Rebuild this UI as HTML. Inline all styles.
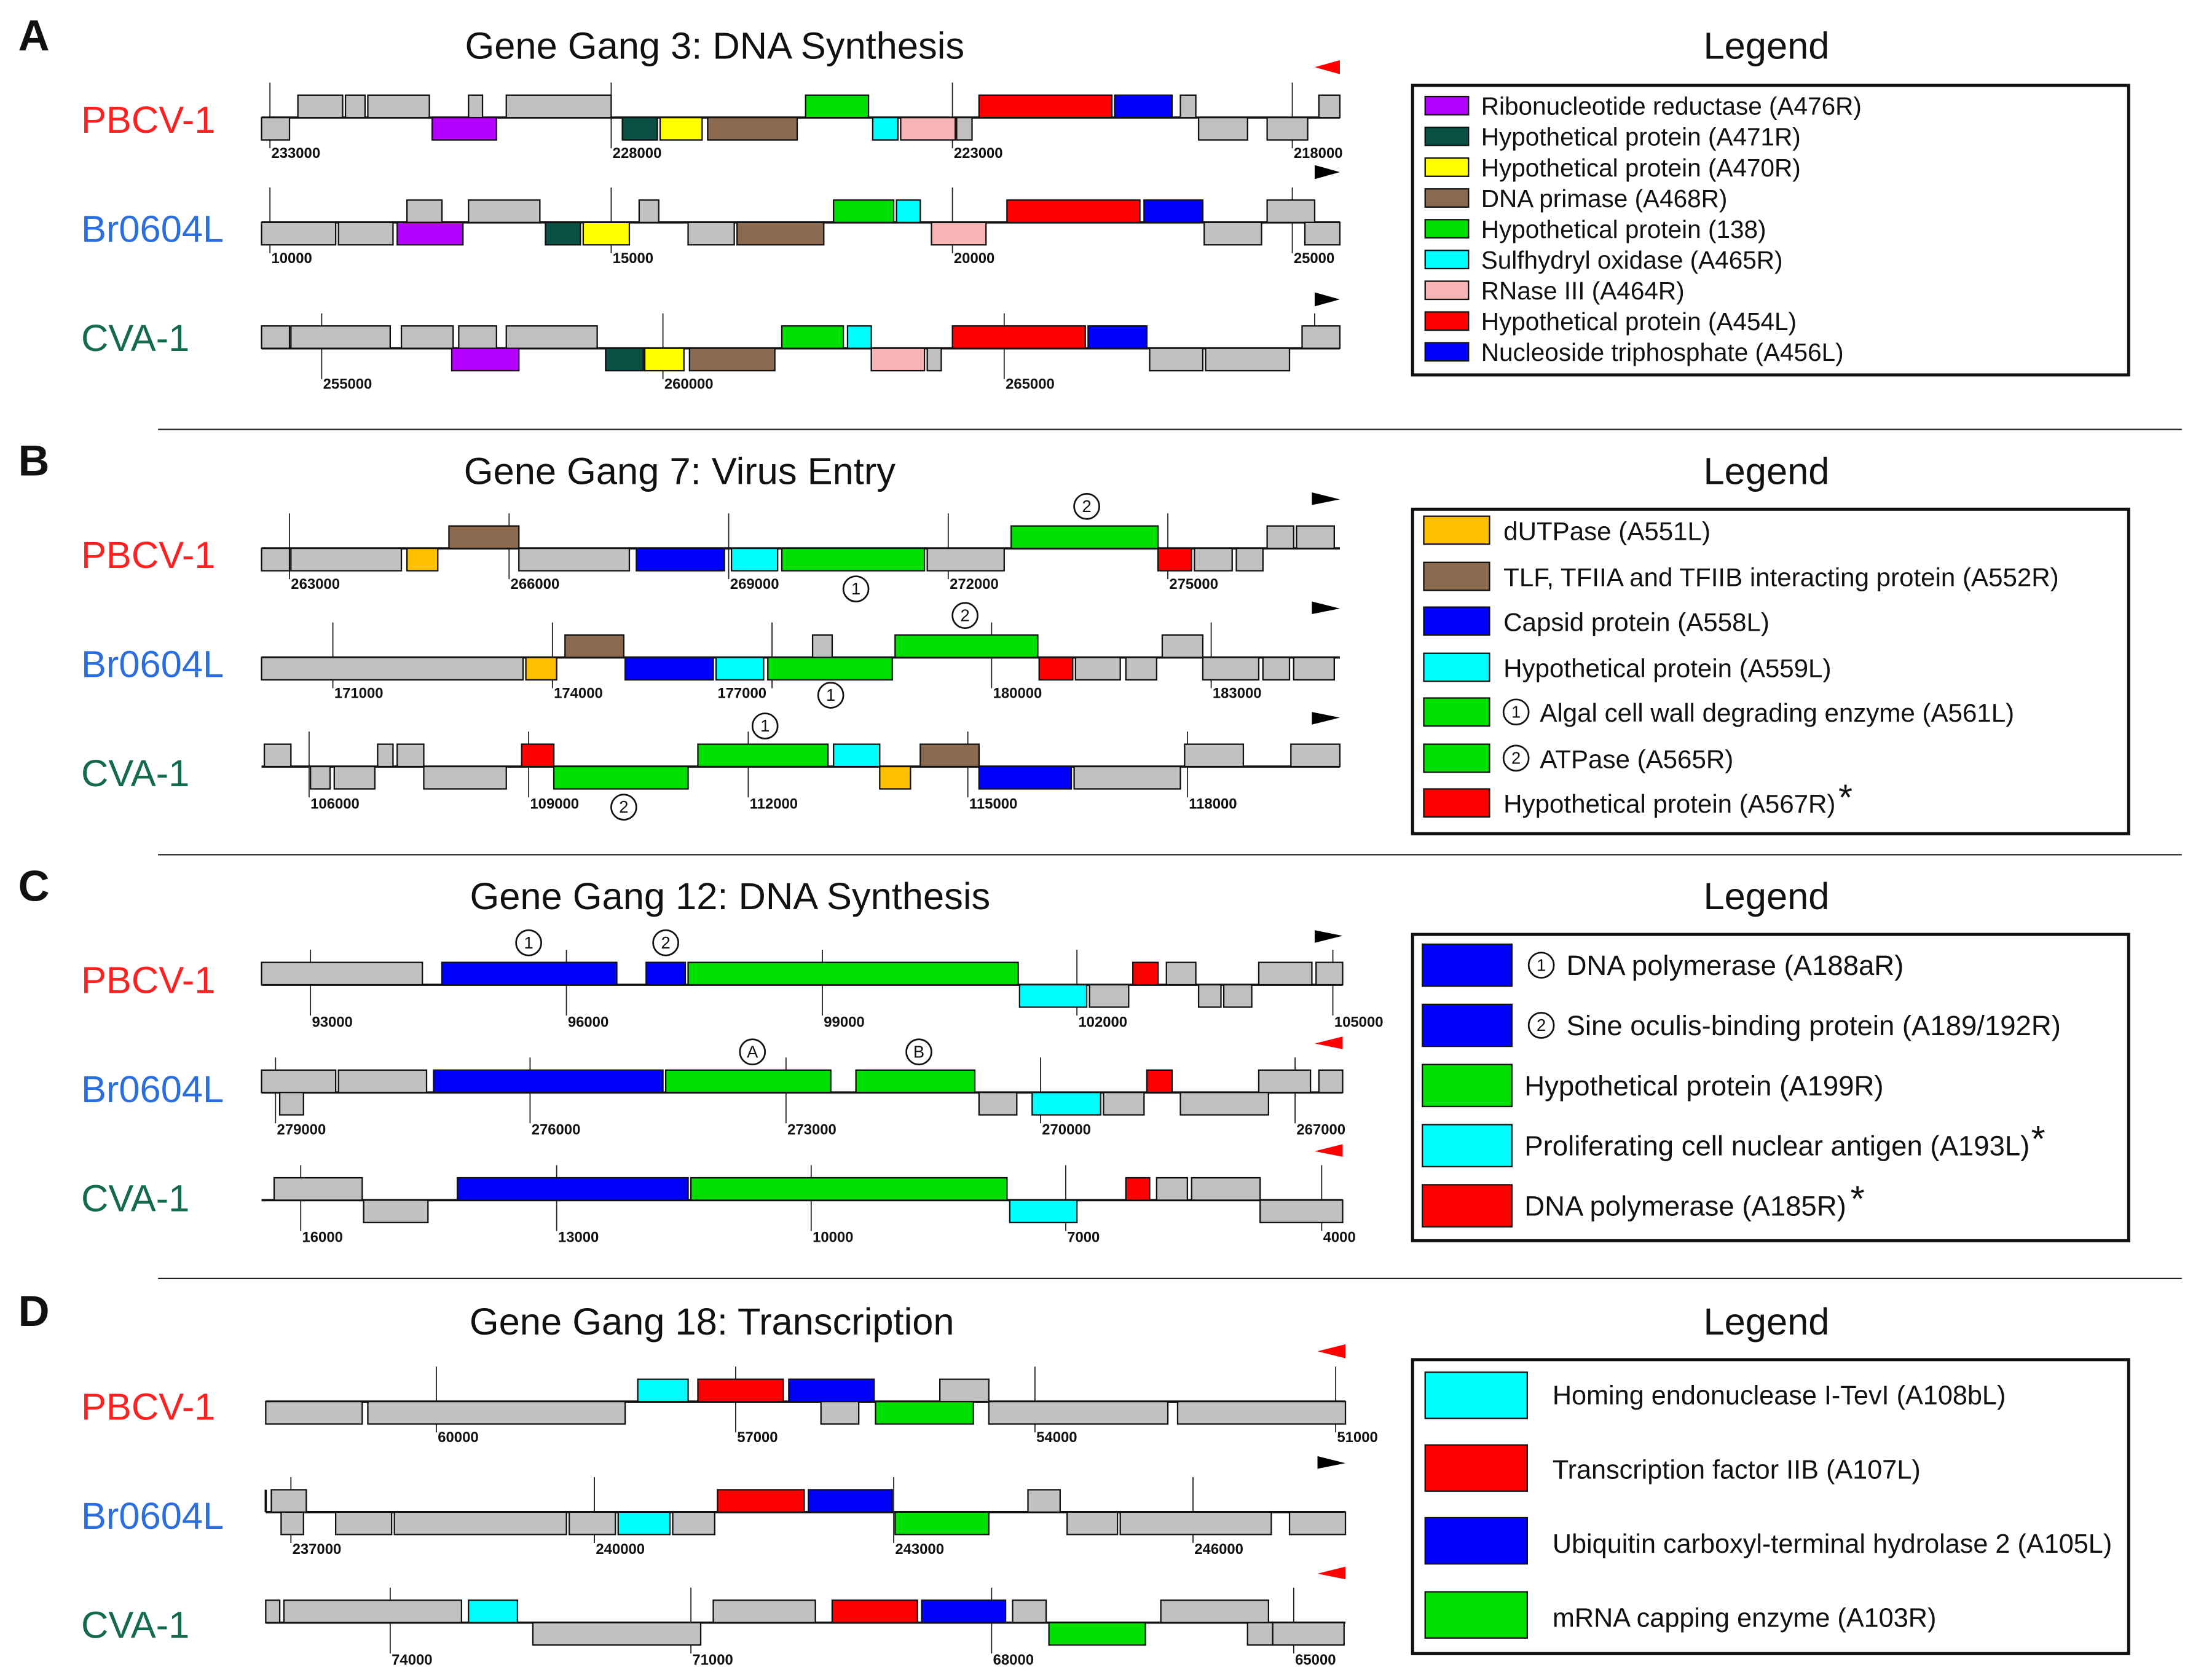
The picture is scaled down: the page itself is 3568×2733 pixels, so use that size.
<!DOCTYPE html>
<html><head><meta charset="utf-8"><style>
html,body{margin:0;padding:0;background:#fff}
svg{display:block}
text{font-family:"Liberation Sans",sans-serif}
.g{fill:#c1c1c1}
rect.gn{stroke:#111;stroke-width:1}
.tk{stroke:#222;stroke-width:.8}
.tl{font-size:10.5px;font-weight:bold;fill:#111}
.ln{stroke:#111;stroke-width:1.6}
.ttl{font-size:27px;fill:#111}
.pl{font-size:31px;font-weight:bold;fill:#111}
.lab{font-size:27px}
.lg{font-size:17px;fill:#111}
.la{font-size:17.8px}
.lb{font-size:18.5px}
.lc{font-size:20px}
.ld{font-size:19px}
.ast{font-size:26px}
.sep{stroke:#222;stroke-width:1}
.cn{fill:#fff;stroke:#111;stroke-width:1.2}
.ct{font-size:12px;text-anchor:middle;fill:#111}
</style></head><body>
<svg width="3568" height="2733" viewBox="0 0 1568 1201" xmlns="http://www.w3.org/2000/svg">
<!-- ================= PANEL A ================= -->
<text class="pl" x="13" y="36">A</text>
<text class="ttl" x="511" y="42" text-anchor="middle">Gene Gang 3: DNA Synthesis</text>
<text class="ttl" x="1263" y="42" text-anchor="middle">Legend</text>
<text class="lab" x="58" y="95" fill="#ff2020">PBCV-1</text>
<text class="lab" x="58" y="173" fill="#2a6ee0">Br0604L</text>
<text class="lab" x="58" y="251" fill="#146b4c">CVA-1</text>

<g transform="translate(0,84)">
<line class="ln" x1="187" y1="0" x2="958" y2="0"/>
<g class="tk"><line x1="193" y1="-25" x2="193" y2="22"/><line x1="437" y1="-25" x2="437" y2="22"/><line x1="681" y1="-25" x2="681" y2="22"/><line x1="924" y1="-25" x2="924" y2="22"/></g>
<g class="tl"><text x="194" y="29">233000</text><text x="438" y="29">228000</text><text x="682" y="29">223000</text><text x="925" y="29">218000</text></g>
<rect class="gn g" x="213" y="-16" width="32" height="16"/><rect class="gn g" x="247" y="-16" width="14" height="16"/><rect class="gn g" x="263" y="-16" width="44" height="16"/><rect class="gn g" x="335" y="-16" width="10" height="16"/><rect class="gn g" x="362" y="-16" width="75" height="16"/>
<rect class="gn" fill="#00e000" x="576" y="-16" width="45" height="16"/><rect class="gn" fill="#ff0000" x="700" y="-16" width="95" height="16"/><rect class="gn" fill="#0000ff" x="797" y="-16" width="41" height="16"/><rect class="gn g" x="844" y="-16" width="11" height="16"/><rect class="gn g" x="943" y="-16" width="15" height="16"/>
<rect class="gn g" x="187" y="0" width="20" height="16"/><rect class="gn" fill="#b400ff" x="309" y="0" width="46" height="16"/><rect class="gn" fill="#0a5045" x="445" y="0" width="25" height="16"/><rect class="gn" fill="#ffff00" x="472" y="0" width="30" height="16"/><rect class="gn" fill="#8c6a50" x="506" y="0" width="64" height="16"/><rect class="gn" fill="#00ffff" x="624" y="0" width="18" height="16"/><rect class="gn" fill="#f6b4b4" x="644" y="0" width="39" height="16"/><rect class="gn g" x="684" y="0" width="11" height="16"/><rect class="gn g" x="857" y="0" width="35" height="16"/><rect class="gn g" x="906" y="0" width="29" height="16"/>
<polygon points="958,-41 940,-36 958,-31" fill="#ff0000"/>
</g>

<g transform="translate(0,159)">
<line class="ln" x1="187" y1="0" x2="958" y2="0"/>
<g class="tk"><line x1="193" y1="-25" x2="193" y2="22"/><line x1="437" y1="-25" x2="437" y2="22"/><line x1="681" y1="-25" x2="681" y2="22"/><line x1="924" y1="-25" x2="924" y2="22"/></g>
<g class="tl"><text x="194" y="29">10000</text><text x="438" y="29">15000</text><text x="682" y="29">20000</text><text x="925" y="29">25000</text></g>
<rect class="gn g" x="291" y="-16" width="25" height="16"/><rect class="gn g" x="335" y="-16" width="51" height="16"/><rect class="gn g" x="457" y="-16" width="14" height="16"/><rect class="gn" fill="#00e000" x="596" y="-16" width="43" height="16"/><rect class="gn" fill="#00ffff" x="641" y="-16" width="17" height="16"/><rect class="gn" fill="#ff0000" x="720" y="-16" width="95" height="16"/><rect class="gn" fill="#0000ff" x="818" y="-16" width="42" height="16"/><rect class="gn g" x="906" y="-16" width="34" height="16"/>
<rect class="gn g" x="187" y="0" width="53" height="16"/><rect class="gn g" x="242" y="0" width="39" height="16"/><rect class="gn" fill="#b400ff" x="284" y="0" width="47" height="16"/><rect class="gn" fill="#0a5045" x="390" y="0" width="25" height="16"/><rect class="gn" fill="#ffff00" x="417" y="0" width="33" height="16"/><rect class="gn g" x="492" y="0" width="33" height="16"/><rect class="gn" fill="#8c6a50" x="527" y="0" width="62" height="16"/><rect class="gn" fill="#f6b4b4" x="666" y="0" width="39" height="16"/><rect class="gn g" x="861" y="0" width="41" height="16"/><rect class="gn g" x="933" y="0" width="25" height="16"/>
<polygon points="940,-41 958,-36 940,-31" fill="#000"/>
</g>

<g transform="translate(0,249)">
<line class="ln" x1="187" y1="0" x2="958" y2="0"/>
<g class="tk"><line x1="230" y1="-25" x2="230" y2="22"/><line x1="474" y1="-25" x2="474" y2="22"/><line x1="718" y1="-25" x2="718" y2="22"/><line x1="940" y1="-25" x2="940" y2="0"/></g>
<g class="tl"><text x="231" y="29">255000</text><text x="475" y="29">260000</text><text x="719" y="29">265000</text></g>
<rect class="gn g" x="187" y="-16" width="20" height="16"/><rect class="gn g" x="208" y="-16" width="71" height="16"/><rect class="gn g" x="287" y="-16" width="37" height="16"/><rect class="gn g" x="328" y="-16" width="27" height="16"/><rect class="gn g" x="362" y="-16" width="65" height="16"/><rect class="gn" fill="#00e000" x="559" y="-16" width="44" height="16"/><rect class="gn" fill="#00ffff" x="606" y="-16" width="17" height="16"/><rect class="gn" fill="#ff0000" x="681" y="-16" width="95" height="16"/><rect class="gn" fill="#0000ff" x="778" y="-16" width="42" height="16"/><rect class="gn g" x="931" y="-16" width="27" height="16"/>
<rect class="gn" fill="#b400ff" x="323" y="0" width="48" height="16"/><rect class="gn" fill="#0a5045" x="433" y="0" width="27" height="16"/><rect class="gn" fill="#ffff00" x="461" y="0" width="28" height="16"/><rect class="gn" fill="#8c6a50" x="493" y="0" width="61" height="16"/><rect class="gn" fill="#f6b4b4" x="623" y="0" width="38" height="16"/><rect class="gn g" x="663" y="0" width="10" height="16"/><rect class="gn g" x="822" y="0" width="38" height="16"/><rect class="gn g" x="862" y="0" width="60" height="16"/>
<polygon points="940,-40 958,-35 940,-30" fill="#000"/>
</g>

<rect x="1010" y="61" width="512" height="207" fill="none" stroke="#111" stroke-width="2.2"/>
<g>
<rect class="gn" fill="#b400ff" x="1019" y="69" width="31" height="13"/><text class="lg la" x="1059" y="82">Ribonucleotide reductase (A476R)</text>
<rect class="gn" fill="#0a5045" x="1019" y="91" width="31" height="13"/><text class="lg la" x="1059" y="104">Hypothetical protein (A471R)</text>
<rect class="gn" fill="#ffff00" x="1019" y="113" width="31" height="13"/><text class="lg la" x="1059" y="126">Hypothetical protein (A470R)</text>
<rect class="gn" fill="#8c6a50" x="1019" y="135" width="31" height="13"/><text class="lg la" x="1059" y="148">DNA primase (A468R)</text>
<rect class="gn" fill="#00e000" x="1019" y="157" width="31" height="13"/><text class="lg la" x="1059" y="170">Hypothetical protein (138)</text>
<rect class="gn" fill="#00ffff" x="1019" y="179" width="31" height="13"/><text class="lg la" x="1059" y="192">Sulfhydryl oxidase (A465R)</text>
<rect class="gn" fill="#f6b4b4" x="1019" y="201" width="31" height="13"/><text class="lg la" x="1059" y="214">RNase III (A464R)</text>
<rect class="gn" fill="#ff0000" x="1019" y="223" width="31" height="13"/><text class="lg la" x="1059" y="236">Hypothetical protein (A454L)</text>
<rect class="gn" fill="#0000ff" x="1019" y="245" width="31" height="13"/><text class="lg la" x="1059" y="258">Nucleoside triphosphate (A456L)</text>
</g>
<line class="sep" x1="113" y1="307" x2="1560" y2="307"/>

<!-- ================= PANEL B ================= -->
<text class="pl" x="13" y="340">B</text>
<text class="ttl" x="486" y="346" text-anchor="middle">Gene Gang 7: Virus Entry</text>
<text class="ttl" x="1263" y="346" text-anchor="middle">Legend</text>
<text class="lab" x="58" y="406" fill="#ff2020">PBCV-1</text>
<text class="lab" x="58" y="484" fill="#2a6ee0">Br0604L</text>
<text class="lab" x="58" y="562" fill="#146b4c">CVA-1</text>

<g transform="translate(0,392)">
<line class="ln" x1="187" y1="0" x2="958" y2="0"/>
<g class="tk"><line x1="207" y1="-25" x2="207" y2="22"/><line x1="364" y1="-25" x2="364" y2="22"/><line x1="521" y1="-25" x2="521" y2="22"/><line x1="678" y1="-25" x2="678" y2="22"/><line x1="835" y1="-25" x2="835" y2="22"/></g>
<g class="tl"><text x="208" y="29">263000</text><text x="365" y="29">266000</text><text x="522" y="29">269000</text><text x="679" y="29">272000</text><text x="836" y="29">275000</text></g>
<rect class="gn" fill="#8c6a50" x="321" y="-16" width="50" height="16"/><rect class="gn" fill="#00e000" x="723" y="-16" width="105" height="16"/><rect class="gn g" x="906" y="-16" width="19" height="16"/><rect class="gn g" x="927" y="-16" width="27" height="16"/>
<rect class="gn g" x="187" y="0" width="20" height="16"/><rect class="gn g" x="208" y="0" width="79" height="16"/><rect class="gn" fill="#ffc000" x="291" y="0" width="22" height="16"/><rect class="gn g" x="371" y="0" width="79" height="16"/><rect class="gn" fill="#0000ff" x="455" y="0" width="63" height="16"/><rect class="gn" fill="#00ffff" x="523" y="0" width="33" height="16"/><rect class="gn" fill="#00e000" x="559" y="0" width="102" height="16"/><rect class="gn g" x="663" y="0" width="55" height="16"/><rect class="gn" fill="#ff0000" x="828" y="0" width="24" height="16"/><rect class="gn g" x="854" y="0" width="27" height="16"/><rect class="gn g" x="884" y="0" width="19" height="16"/>
<circle class="cn" cx="777" cy="-30" r="9"/><text class="ct" x="777" y="-26">2</text>
<circle class="cn" cx="612" cy="29" r="9"/><text class="ct" x="612" y="33">1</text>
<polygon points="938,-40 958,-35 938,-31" fill="#000"/>
</g>

<g transform="translate(0,470)">
<line class="ln" x1="187" y1="0" x2="958" y2="0"/>
<g class="tk"><line x1="238" y1="-25" x2="238" y2="22"/><line x1="395" y1="-25" x2="395" y2="22"/><line x1="552" y1="-25" x2="552" y2="22"/><line x1="709" y1="-25" x2="709" y2="22"/><line x1="866" y1="-25" x2="866" y2="22"/></g>
<g class="tl"><text x="239" y="29">171000</text><text x="396" y="29">174000</text><text x="513" y="29">177000</text><text x="710" y="29">180000</text><text x="867" y="29">183000</text></g>
<rect class="gn" fill="#8c6a50" x="404" y="-16" width="42" height="16"/><rect class="gn g" x="581" y="-16" width="14" height="16"/><rect class="gn" fill="#00e000" x="640" y="-16" width="102" height="16"/><rect class="gn g" x="831" y="-16" width="29" height="16"/>
<rect class="gn g" x="187" y="0" width="187" height="16"/><rect class="gn" fill="#ffc000" x="376" y="0" width="22" height="16"/><rect class="gn" fill="#0000ff" x="447" y="0" width="63" height="16"/><rect class="gn" fill="#00ffff" x="512" y="0" width="34" height="16"/><rect class="gn" fill="#00e000" x="549" y="0" width="89" height="16"/><rect class="gn" fill="#ff0000" x="743" y="0" width="24" height="16"/><rect class="gn g" x="769" y="0" width="32" height="16"/><rect class="gn g" x="805" y="0" width="22" height="16"/><rect class="gn g" x="860" y="0" width="40" height="16"/><rect class="gn g" x="903" y="0" width="19" height="16"/><rect class="gn g" x="925" y="0" width="29" height="16"/>
<circle class="cn" cx="690" cy="-30" r="9"/><text class="ct" x="690" y="-26">2</text>
<circle class="cn" cx="594" cy="27" r="9"/><text class="ct" x="594" y="31">1</text>
<polygon points="938,-40 958,-35 938,-31" fill="#000"/>
</g>

<g transform="translate(0,548)">
<line class="ln" x1="187" y1="0" x2="958" y2="0"/>
<g class="tk"><line x1="221" y1="-25" x2="221" y2="22"/><line x1="378" y1="-25" x2="378" y2="22"/><line x1="535" y1="-25" x2="535" y2="22"/><line x1="692" y1="-25" x2="692" y2="22"/><line x1="849" y1="-25" x2="849" y2="22"/></g>
<g class="tl"><text x="222" y="30">106000</text><text x="379" y="30">109000</text><text x="536" y="30">112000</text><text x="693" y="30">115000</text><text x="850" y="30">118000</text></g>
<rect class="gn g" x="189" y="-16" width="19" height="16"/><rect class="gn g" x="270" y="-16" width="11" height="16"/><rect class="gn g" x="284" y="-16" width="19" height="16"/><rect class="gn" fill="#ff0000" x="373" y="-16" width="23" height="16"/><rect class="gn" fill="#00e000" x="499" y="-16" width="93" height="16"/><rect class="gn" fill="#00ffff" x="596" y="-16" width="33" height="16"/><rect class="gn" fill="#8c6a50" x="658" y="-16" width="42" height="16"/><rect class="gn g" x="847" y="-16" width="42" height="16"/><rect class="gn g" x="923" y="-16" width="35" height="16"/>
<rect class="gn g" x="222" y="0" width="14" height="16"/><rect class="gn g" x="239" y="0" width="29" height="16"/><rect class="gn g" x="303" y="0" width="59" height="16"/><rect class="gn" fill="#00e000" x="396" y="0" width="96" height="16"/><rect class="gn" fill="#ffc000" x="629" y="0" width="22" height="16"/><rect class="gn" fill="#0000ff" x="700" y="0" width="66" height="16"/><rect class="gn g" x="768" y="0" width="76" height="16"/>
<circle class="cn" cx="547" cy="-29" r="9"/><text class="ct" x="547" y="-25">1</text>
<circle class="cn" cx="446" cy="29" r="9"/><text class="ct" x="446" y="33">2</text>
<polygon points="938,-39 958,-35 938,-30" fill="#000"/>
</g>

<rect x="1010" y="364" width="512" height="232" fill="none" stroke="#111" stroke-width="2.2"/>
<g>
<rect class="gn" fill="#ffc000" x="1018" y="369" width="47" height="20"/><text class="lg lb" x="1075" y="386">dUTPase (A551L)</text>
<rect class="gn" fill="#8c6a50" x="1018" y="402" width="47" height="20"/><text class="lg lb" x="1075" y="419">TLF, TFIIA and TFIIB interacting protein (A552R)</text>
<rect class="gn" fill="#0000ff" x="1018" y="434" width="47" height="20"/><text class="lg lb" x="1075" y="451">Capsid protein (A558L)</text>
<rect class="gn" fill="#00ffff" x="1018" y="467" width="47" height="20"/><text class="lg lb" x="1075" y="484">Hypothetical protein (A559L)</text>
<rect class="gn" fill="#00e000" x="1018" y="499" width="47" height="20"/><circle class="cn" cx="1084" cy="509" r="9"/><text class="ct" x="1084" y="513">1</text><text class="lg lb" x="1101" y="516">Algal cell wall degrading enzyme (A561L)</text>
<rect class="gn" fill="#00e000" x="1018" y="532" width="47" height="20"/><circle class="cn" cx="1084" cy="542" r="9"/><text class="ct" x="1084" y="546">2</text><text class="lg lb" x="1101" y="549">ATPase (A565R)</text>
<rect class="gn" fill="#ff0000" x="1018" y="564" width="47" height="20"/><text class="lg lb" x="1075" y="581">Hypothetical protein (A567R)<tspan class="ast" dx="2" dy="-2">*</tspan></text>
</g>
<line class="sep" x1="113" y1="611" x2="1560" y2="611"/>

<!-- ================= PANEL C ================= -->
<text class="pl" x="13" y="644">C</text>
<text class="ttl" x="522" y="650" text-anchor="middle">Gene Gang 12:  DNA Synthesis</text>
<text class="ttl" x="1263" y="650" text-anchor="middle">Legend</text>
<text class="lab" x="58" y="710" fill="#ff2020">PBCV-1</text>
<text class="lab" x="58" y="788" fill="#2a6ee0">Br0604L</text>
<text class="lab" x="58" y="866" fill="#146b4c">CVA-1</text>

<g transform="translate(0,704)">
<line class="ln" x1="187" y1="0" x2="960" y2="0"/>
<g class="tk"><line x1="222" y1="-25" x2="222" y2="22"/><line x1="405" y1="-25" x2="405" y2="22"/><line x1="588" y1="-25" x2="588" y2="22"/><line x1="770" y1="-25" x2="770" y2="22"/><line x1="953" y1="-25" x2="953" y2="22"/></g>
<g class="tl"><text x="223" y="30">93000</text><text x="406" y="30">96000</text><text x="589" y="30">99000</text><text x="771" y="30">102000</text><text x="954" y="30">105000</text></g>
<rect class="gn g" x="187" y="-16" width="115" height="16"/><rect class="gn" fill="#0000ff" x="316" y="-16" width="125" height="16"/><rect class="gn" fill="#0000ff" x="462" y="-16" width="28" height="16"/><rect class="gn" fill="#00e000" x="492" y="-16" width="236" height="16"/><rect class="gn" fill="#ff0000" x="810" y="-16" width="18" height="16"/><rect class="gn g" x="834" y="-16" width="21" height="16"/><rect class="gn g" x="900" y="-16" width="38" height="16"/><rect class="gn g" x="941" y="-16" width="19" height="16"/>
<rect class="gn" fill="#00ffff" x="729" y="0" width="48" height="16"/><rect class="gn g" x="779" y="0" width="28" height="16"/><rect class="gn g" x="857" y="0" width="16" height="16"/><rect class="gn g" x="875" y="0" width="20" height="16"/>
<circle class="cn" cx="378" cy="-30" r="9"/><text class="ct" x="378" y="-26">1</text>
<circle class="cn" cx="476" cy="-30" r="9"/><text class="ct" x="476" y="-26">2</text>
<polygon points="940,-39 960,-35 940,-30" fill="#000"/>
</g>

<g transform="translate(0,781)">
<line class="ln" x1="187" y1="0" x2="960" y2="0"/>
<g class="tk"><line x1="197" y1="-25" x2="197" y2="22"/><line x1="379" y1="-25" x2="379" y2="22"/><line x1="562" y1="-25" x2="562" y2="22"/><line x1="744" y1="-25" x2="744" y2="22"/><line x1="926" y1="-25" x2="926" y2="22"/></g>
<g class="tl"><text x="198" y="30">279000</text><text x="380" y="30">276000</text><text x="563" y="30">273000</text><text x="745" y="30">270000</text><text x="927" y="30">267000</text></g>
<rect class="gn g" x="187" y="-16" width="53" height="16"/><rect class="gn g" x="242" y="-16" width="63" height="16"/><rect class="gn" fill="#0000ff" x="310" y="-16" width="164" height="16"/><rect class="gn" fill="#00e000" x="476" y="-16" width="118" height="16"/><rect class="gn" fill="#00e000" x="612" y="-16" width="85" height="16"/><rect class="gn" fill="#ff0000" x="820" y="-16" width="18" height="16"/><rect class="gn g" x="900" y="-16" width="37" height="16"/><rect class="gn g" x="943" y="-16" width="17" height="16"/>
<rect class="gn g" x="200" y="0" width="17" height="16"/><rect class="gn g" x="700" y="0" width="27" height="16"/><rect class="gn" fill="#00ffff" x="738" y="0" width="49" height="16"/><rect class="gn g" x="789" y="0" width="29" height="16"/><rect class="gn g" x="844" y="0" width="63" height="16"/>
<circle class="cn" cx="538" cy="-29" r="9"/><text class="ct" x="538" y="-25">A</text>
<circle class="cn" cx="657" cy="-29" r="9"/><text class="ct" x="657" y="-25">B</text>
<polygon points="960,-40 940,-35 960,-31" fill="#ff0000"/>
</g>

<g transform="translate(0,858)">
<line class="ln" x1="187" y1="0" x2="960" y2="0"/>
<g class="tk"><line x1="215" y1="-25" x2="215" y2="22"/><line x1="398" y1="-25" x2="398" y2="22"/><line x1="580" y1="-25" x2="580" y2="22"/><line x1="762" y1="-25" x2="762" y2="22"/><line x1="945" y1="-25" x2="945" y2="22"/></g>
<g class="tl"><text x="216" y="30">16000</text><text x="399" y="30">13000</text><text x="581" y="30">10000</text><text x="763" y="30">7000</text><text x="946" y="30">4000</text></g>
<rect class="gn g" x="196" y="-16" width="63" height="16"/><rect class="gn" fill="#0000ff" x="327" y="-16" width="165" height="16"/><rect class="gn" fill="#00e000" x="494" y="-16" width="226" height="16"/><rect class="gn" fill="#ff0000" x="805" y="-16" width="17" height="16"/><rect class="gn g" x="827" y="-16" width="22" height="16"/><rect class="gn g" x="852" y="-16" width="49" height="16"/>
<rect class="gn g" x="260" y="0" width="46" height="16"/><rect class="gn" fill="#00ffff" x="722" y="0" width="48" height="16"/><rect class="gn g" x="901" y="0" width="59" height="16"/>
<polygon points="960,-40 940,-35 960,-31" fill="#ff0000"/>
</g>

<rect x="1010" y="668" width="512" height="219" fill="none" stroke="#111" stroke-width="2.2"/>
<g>
<rect class="gn" fill="#0000ff" x="1017" y="675" width="64" height="30"/><circle class="cn" cx="1102" cy="690" r="9"/><text class="ct" x="1102" y="694">1</text><text class="lg lc" x="1120" y="697">DNA polymerase (A188aR)</text>
<rect class="gn" fill="#0000ff" x="1017" y="718" width="64" height="30"/><circle class="cn" cx="1102" cy="733" r="9"/><text class="ct" x="1102" y="737">2</text><text class="lg lc" x="1120" y="740">Sine oculis-binding protein (A189/192R)</text>
<rect class="gn" fill="#00e000" x="1017" y="761" width="64" height="30"/><text class="lg lc" x="1090" y="783">Hypothetical protein (A199R)</text>
<rect class="gn" fill="#00ffff" x="1017" y="804" width="64" height="30"/><text class="lg lc" x="1090" y="826">Proliferating cell nuclear antigen (A193L)<tspan class="ast" dx="1" dy="-3">*</tspan></text>
<rect class="gn" fill="#ff0000" x="1017" y="847" width="64" height="30"/><text class="lg lc" x="1090" y="869">DNA polymerase (A185R)<tspan class="ast" dx="3" dy="-3">*</tspan></text>
</g>
<line class="sep" x1="113" y1="914" x2="1560" y2="914"/>

<!-- ================= PANEL D ================= -->
<text class="pl" x="13" y="948">D</text>
<text class="ttl" x="509" y="954" text-anchor="middle">Gene Gang 18: Transcription</text>
<text class="ttl" x="1263" y="954" text-anchor="middle">Legend</text>
<text class="lab" x="58" y="1015" fill="#ff2020">PBCV-1</text>
<text class="lab" x="58" y="1093" fill="#2a6ee0">Br0604L</text>
<text class="lab" x="58" y="1171" fill="#146b4c">CVA-1</text>

<g transform="translate(0,1002)">
<line class="ln" x1="190" y1="0" x2="962" y2="0"/>
<g class="tk"><line x1="312" y1="-25" x2="312" y2="22"/><line x1="526" y1="-25" x2="526" y2="22"/><line x1="740" y1="-25" x2="740" y2="22"/><line x1="955" y1="-25" x2="955" y2="22"/></g>
<g class="tl"><text x="313" y="29">60000</text><text x="527" y="29">57000</text><text x="741" y="29">54000</text><text x="956" y="29">51000</text></g>
<rect class="gn" fill="#00ffff" x="456" y="-16" width="36" height="16"/><rect class="gn" fill="#ff0000" x="499" y="-16" width="61" height="16"/><rect class="gn" fill="#0000ff" x="564" y="-16" width="61" height="16"/><rect class="gn g" x="672" y="-16" width="35" height="16"/>
<rect class="gn g" x="190" y="0" width="69" height="16"/><rect class="gn g" x="263" y="0" width="184" height="16"/><rect class="gn g" x="587" y="0" width="27" height="16"/><rect class="gn" fill="#00e000" x="626" y="0" width="70" height="16"/><rect class="gn g" x="707" y="0" width="128" height="16"/><rect class="gn g" x="842" y="0" width="120" height="16"/>
<polygon points="962,-41 942,-36 962,-31" fill="#ff0000"/>
</g>

<g transform="translate(0,1081)">
<line class="ln" x1="190" y1="0" x2="962" y2="0"/>
<line class="ln" x1="190" y1="-16" x2="190" y2="0"/>
<g class="tk"><line x1="208" y1="-25" x2="208" y2="22"/><line x1="425" y1="-25" x2="425" y2="22"/><line x1="639" y1="-25" x2="639" y2="22"/><line x1="853" y1="-25" x2="853" y2="22"/></g>
<g class="tl"><text x="209" y="30">237000</text><text x="426" y="30">240000</text><text x="640" y="30">243000</text><text x="854" y="30">246000</text></g>
<rect class="gn g" x="194" y="-16" width="25" height="16"/><rect class="gn" fill="#ff0000" x="513" y="-16" width="62" height="16"/><rect class="gn" fill="#0000ff" x="578" y="-16" width="60" height="16"/><rect class="gn g" x="735" y="-16" width="23" height="16"/>
<rect class="gn g" x="201" y="0" width="16" height="16"/><rect class="gn g" x="240" y="0" width="40" height="16"/><rect class="gn g" x="282" y="0" width="123" height="16"/><rect class="gn g" x="407" y="0" width="33" height="16"/><rect class="gn" fill="#00ffff" x="442" y="0" width="37" height="16"/><rect class="gn g" x="481" y="0" width="30" height="16"/><rect class="gn" fill="#00e000" x="640" y="0" width="67" height="16"/><rect class="gn g" x="763" y="0" width="36" height="16"/><rect class="gn g" x="801" y="0" width="108" height="16"/><rect class="gn g" x="922" y="0" width="40" height="16"/>
<polygon points="942,-40 962,-35 942,-31" fill="#000"/>
</g>

<g transform="translate(0,1160)">
<line class="ln" x1="190" y1="0" x2="962" y2="0"/>
<g class="tk"><line x1="279" y1="-25" x2="279" y2="22"/><line x1="494" y1="-25" x2="494" y2="22"/><line x1="709" y1="-25" x2="709" y2="22"/><line x1="925" y1="-25" x2="925" y2="22"/></g>
<g class="tl"><text x="280" y="30">74000</text><text x="495" y="30">71000</text><text x="710" y="30">68000</text><text x="926" y="30">65000</text></g>
<rect class="gn g" x="190" y="-16" width="10" height="16"/><rect class="gn g" x="203" y="-16" width="127" height="16"/><rect class="gn" fill="#00ffff" x="335" y="-16" width="35" height="16"/><rect class="gn g" x="510" y="-16" width="73" height="16"/><rect class="gn" fill="#ff0000" x="595" y="-16" width="61" height="16"/><rect class="gn" fill="#0000ff" x="659" y="-16" width="60" height="16"/><rect class="gn g" x="724" y="-16" width="24" height="16"/><rect class="gn g" x="830" y="-16" width="77" height="16"/>
<rect class="gn g" x="381" y="0" width="120" height="16"/><rect class="gn" fill="#00e000" x="750" y="0" width="69" height="16"/><rect class="gn g" x="892" y="0" width="18" height="16"/><rect class="gn g" x="910" y="0" width="51" height="16"/>
<polygon points="962,-40 942,-35 962,-31" fill="#ff0000"/>
</g>

<rect x="1010" y="972" width="512" height="210" fill="none" stroke="#111" stroke-width="2.2"/>
<g>
<rect class="gn" fill="#00ffff" x="1019" y="981" width="73" height="33"/><text class="lg ld" x="1110" y="1004">Homing endonuclease I-TevI (A108bL)</text>
<rect class="gn" fill="#ff0000" x="1019" y="1033" width="73" height="33"/><text class="lg ld" x="1110" y="1057">Transcription factor IIB (A107L)</text>
<rect class="gn" fill="#0000ff" x="1019" y="1085" width="73" height="33"/><text class="lg ld" x="1110" y="1110">Ubiquitin carboxyl-terminal hydrolase 2 (A105L)</text>
<rect class="gn" fill="#00e000" x="1019" y="1138" width="73" height="33"/><text class="lg ld" x="1110" y="1163">mRNA capping enzyme (A103R)</text>
</g>
</svg>
</body></html>
